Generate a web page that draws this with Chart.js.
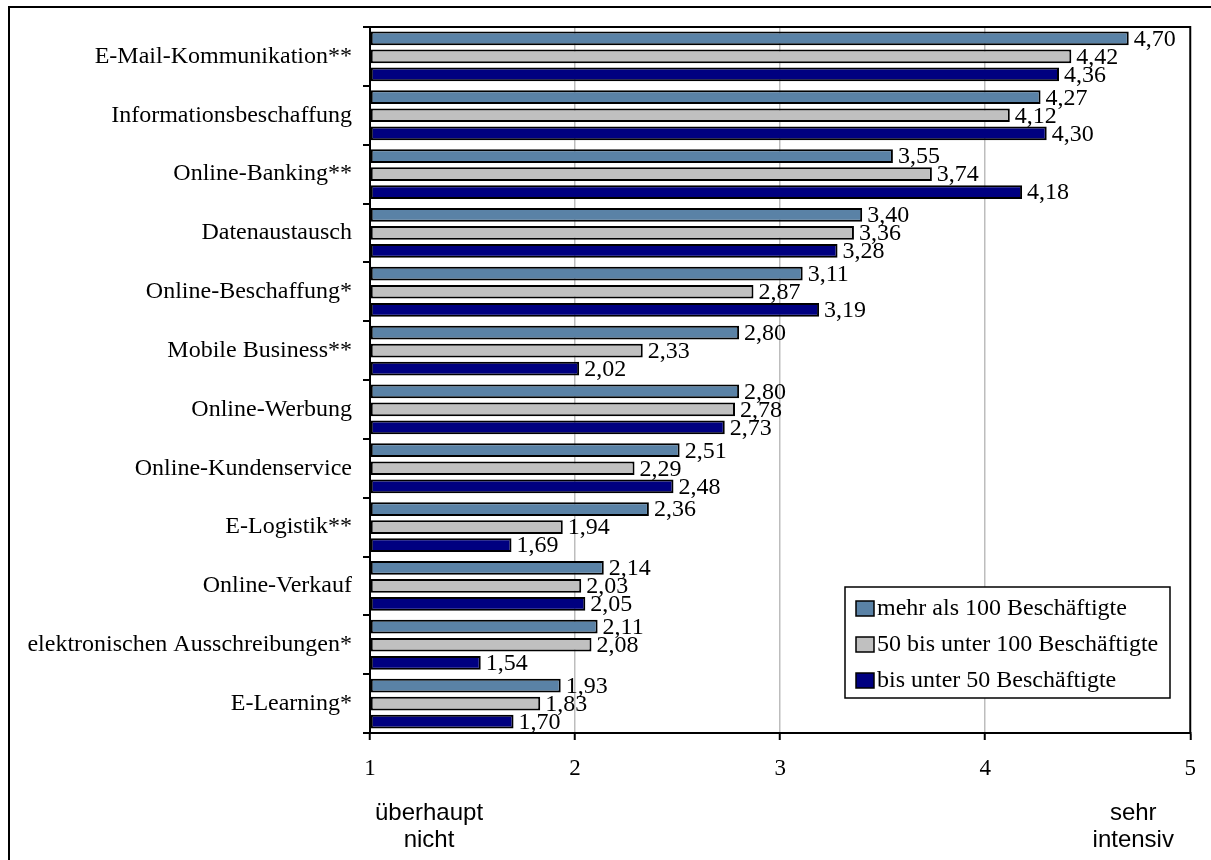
<!DOCTYPE html>
<html>
<head>
<meta charset="utf-8">
<script src="https://cdn.jsdelivr.net/npm/chart.js@4.4.1/dist/chart.umd.min.js"></script>
<style>
  html, body { margin: 0; padding: 0; background: #fff; }
  #wrap { position: relative; width: 1211px; height: 860px; }
</style>
</head>
<body>
<div id="wrap"><canvas id="chart" width="1211" height="860"></canvas></div>
<script>
// categories, top to bottom
const categories = [
  'E-Mail-Kommunikation**',
  'Informationsbeschaffung',
  'Online-Banking**',
  'Datenaustausch',
  'Online-Beschaffung*',
  'Mobile Business**',
  'Online-Werbung',
  'Online-Kundenservice',
  'E-Logistik**',
  'Online-Verkauf',
  'elektronischen Ausschreibungen*',
  'E-Learning*'
];

const seriesNames = [
  'mehr als 100 Beschäftigte',
  '50 bis unter 100 Beschäftigte',
  'bis unter 50 Beschäftigte'
];

const over100 = [4.70, 4.27, 3.55, 3.40, 3.11, 2.80, 2.80, 2.51, 2.36, 2.14, 2.11, 1.93];
const from50to100 = [4.42, 4.12, 3.74, 3.36, 2.87, 2.33, 2.78, 2.29, 1.94, 2.03, 2.08, 1.83];
const under50 = [4.36, 4.30, 4.18, 3.28, 3.19, 2.02, 2.73, 2.48, 1.69, 2.05, 1.54, 1.70];

const xTicks = [1, 2, 3, 4, 5];
const scaleEnds = ['überhaupt\nnicht', 'sehr\nintensiv'];

const colors = ['#5a82a6', '#c0c0c0', '#000080'];
const serif = '"Liberation Serif", "Times New Roman", serif';
const sans = '"Liberation Sans", Arial, sans-serif';

const fmt = v => v.toFixed(2).replace('.', ',');

// white page with the frame line on the left and on top
const framePlugin = {
  id: 'frame',
  beforeDraw(chart) {
    const ctx = chart.ctx;
    ctx.save();
    ctx.fillStyle = '#fff';
    ctx.fillRect(0, 0, chart.width, chart.height);
    ctx.strokeStyle = '#000';
    ctx.lineWidth = 2;
    ctx.beginPath();
    ctx.moveTo(9, chart.height);
    ctx.lineTo(9, 7);
    ctx.lineTo(chart.width, 7);
    ctx.stroke();
    ctx.restore();
  }
};

// value labels next to each bar
const valueLabels = {
  id: 'valueLabels',
  afterDatasetsDraw(chart) {
    const ctx = chart.ctx;
    ctx.save();
    ctx.font = '24px ' + serif;
    ctx.fillStyle = '#000';
    ctx.textAlign = 'left';
    ctx.textBaseline = 'middle';
    chart.data.datasets.forEach((ds, i) => {
      chart.getDatasetMeta(i).data.forEach((bar, j) => {
        ctx.fillText(fmt(ds.data[j]), bar.x + 5, bar.y + 1);
      });
    });
    ctx.restore();
  }
};

// plot border, legend box and the scale end captions
const extras = {
  id: 'extras',
  afterDraw(chart) {
    const ctx = chart.ctx;
    const a = chart.chartArea;
    const x = chart.scales.x;
    ctx.save();
    ctx.strokeStyle = '#000';
    ctx.lineWidth = 2;
    ctx.strokeRect(a.left, a.top, a.right - a.left, a.bottom - a.top);

    // legend
    const lx = 845, ly = 587, lw = 325, lh = 111;
    ctx.fillStyle = '#fff';
    ctx.fillRect(lx, ly, lw, lh);
    ctx.lineWidth = 1.5;
    ctx.strokeRect(lx, ly, lw, lh);
    ctx.font = '24px ' + serif;
    ctx.textBaseline = 'middle';
    ctx.textAlign = 'left';
    chart.data.datasets.forEach((ds, i) => {
      const cy = 608 + i * 36;
      ctx.fillStyle = ds.backgroundColor;
      ctx.fillRect(856, cy - 7, 18, 15);
      ctx.strokeStyle = '#000';
      ctx.lineWidth = 1.5;
      ctx.strokeRect(856, cy - 7, 18, 15);
      ctx.fillStyle = '#000';
      ctx.fillText(ds.label, 877, cy + 1);
    });

    // captions under the scale ends
    ctx.font = '24px ' + sans;
    ctx.textAlign = 'center';
    ctx.fillStyle = '#000';
    const left = x.getPixelForValue(xTicks[0]) + 59;
    const right = x.getPixelForValue(xTicks[xTicks.length - 1]) - 57;
    scaleEnds[0].split('\n').forEach((t, k) => ctx.fillText(t, left, 813 + k * 27));
    scaleEnds[1].split('\n').forEach((t, k) => ctx.fillText(t, right, 813 + k * 27));
    ctx.restore();
  }
};

new Chart(document.getElementById('chart'), {
  type: 'bar',
  data: {
    labels: categories,
    datasets: [over100, from50to100, under50].map((d, i) => ({
      label: seriesNames[i],
      data: d,
      base: 1,
      backgroundColor: colors[i],
      borderColor: '#000',
      borderWidth: 2,
      borderSkipped: false,
      categoryPercentage: 0.92,
      barPercentage: 0.76
    }))
  },
  options: {
    indexAxis: 'y',
    responsive: false,
    animation: false,
    layout: { padding: { top: 27, right: 17, left: 0, bottom: 0 } },
    plugins: {
      legend: { display: false },
      tooltip: { enabled: false }
    },
    scales: {
      x: {
        min: 1,
        max: 5,
        afterFit(scale) { scale.height = 127; },
        afterBuildTicks(scale) { scale.ticks = xTicks.map(v => ({ value: v })); },
        ticks: {
          color: '#000',
          font: { family: serif, size: 23 },
          padding: 15,
          callback: v => String(v)
        },
        grid: {
          color: c => (c.tick && (c.tick.value === 1 || c.tick.value === 5)) ? 'rgba(0,0,0,0)' : '#bdbdbd',
          lineWidth: 1.5,
          tickColor: '#000',
          tickWidth: 2,
          tickLength: 7
        },
        border: { color: '#000', width: 2 }
      },
      y: {
        afterFit(scale) { scale.width = 370; },
        ticks: {
          color: '#000',
          font: { family: serif, size: 24 },
          padding: 11
        },
        grid: {
          offset: true,
          drawOnChartArea: false,
          color: '#000',
          lineWidth: 2,
          tickLength: 7
        },
        border: { color: '#000', width: 2 }
      }
    }
  },
  plugins: [framePlugin, valueLabels, extras]
});
</script>
</body>
</html>
